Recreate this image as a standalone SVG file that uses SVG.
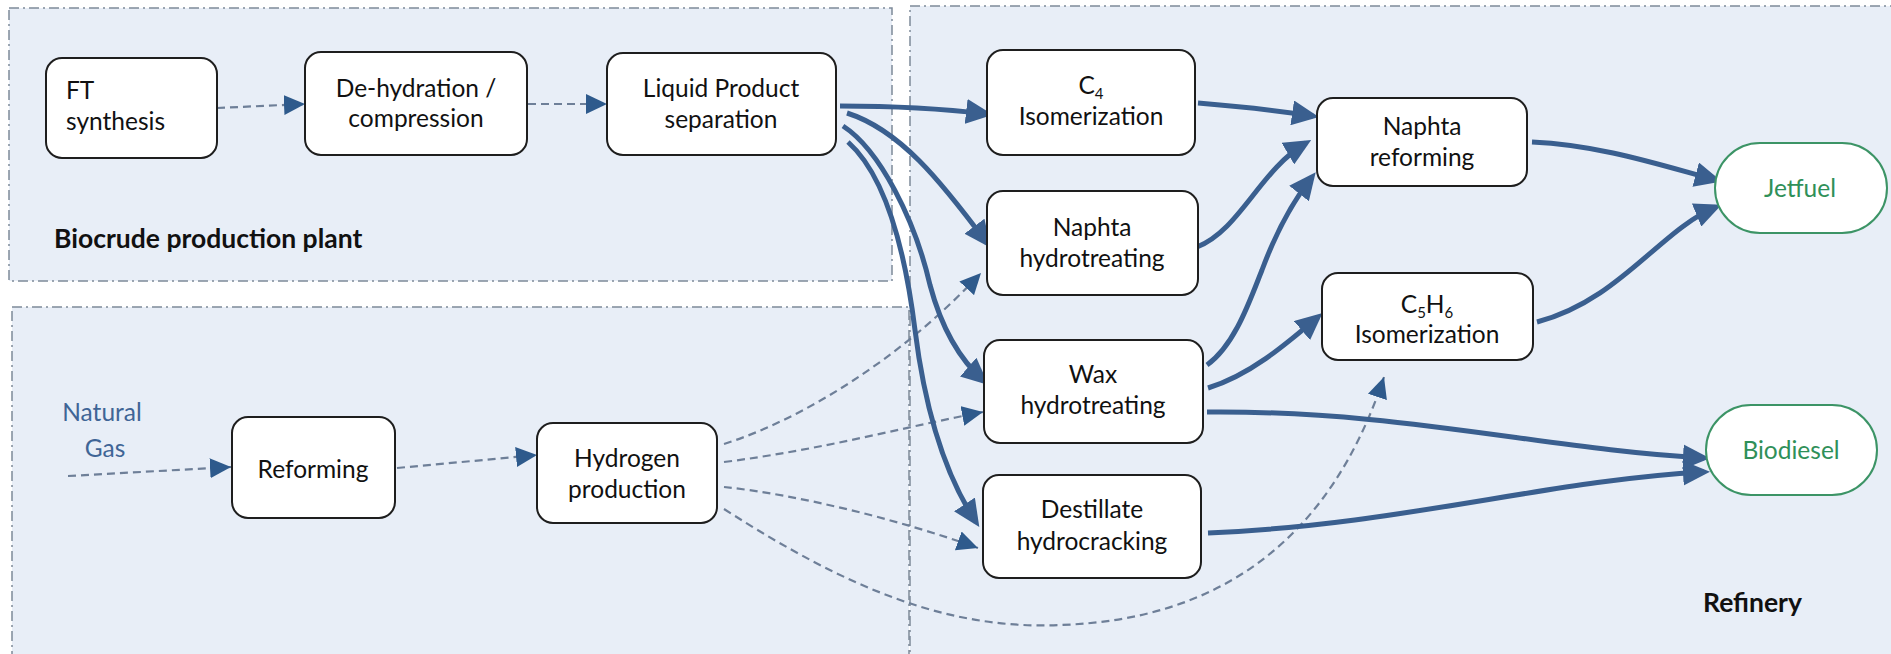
<svg xmlns="http://www.w3.org/2000/svg" width="1891" height="654" viewBox="0 0 1891 654">
  <style>
    .panel { fill: #E8EEF7; stroke: #7E8A99; stroke-width: 1.5; stroke-dasharray: 10 4 2 4; }
    .box { fill: #FFFFFF; stroke: #1E1E1E; stroke-width: 2; }
    .product { fill: #FFFFFF; stroke: #3C9466; stroke-width: 2; }
    .lbl { font-family: Lato, "Liberation Sans", sans-serif; font-size: 24.5px; fill: #111111; text-anchor: middle; }
    .left { text-anchor: start; }
    .green { fill: #2F9059; }
    .feed { fill: #3F6596; }
    .title { font-family: Lato, "Liberation Sans", sans-serif; font-size: 26.5px; font-weight: bold; fill: #111111; }
    .sub { font-size: 15px; }
    .solid { fill: none; stroke: #3A5F8F; stroke-width: 5; }
    .dash { fill: none; stroke: #6E7F98; stroke-width: 2.2; stroke-dasharray: 8 5; }
  </style>
  <defs>
    <marker id="headSolid" markerUnits="userSpaceOnUse" markerWidth="27" markerHeight="25" refX="21" refY="12.5" orient="auto">
      <path d="M0,0 L27,12.5 L0,25 z" fill="#3A5F8F"/>
    </marker>
    <marker id="headDash" markerUnits="userSpaceOnUse" markerWidth="21" markerHeight="20" refX="21" refY="10" orient="auto">
      <path d="M0,0 L21,10 L0,20 z" fill="#2E5A8C"/>
    </marker>
  </defs>

  <rect width="1891" height="654" fill="#FFFFFF"/>

  <!-- areas -->
  <g id="areas">
    <rect class="panel" x="9" y="8" width="883" height="273"/>
    <rect class="panel" x="12" y="307" width="897" height="360"/>
    <rect class="panel" x="910" y="6" width="990" height="660"/>
    <text class="title" x="54" y="248">Biocrude production plant</text>
    <text class="title" x="1703" y="612">Refinery</text>
  </g>

  <!-- connectors -->
  <g id="connectors">
    <!-- gas / hydrogen lines -->
    <path class="dash" d="M217,108 L305,104" marker-end="url(#headDash)"/>
    <path class="dash" d="M528,104 L607,104" marker-end="url(#headDash)"/>
    <path class="dash" d="M68,476 L231,467" marker-end="url(#headDash)"/>
    <path class="dash" d="M397,468 L537,455" marker-end="url(#headDash)"/>
    <path class="dash" d="M724,444 C800,420 900,360 981,273" marker-end="url(#headDash)"/>
    <path class="dash" d="M724,462 C820,450 900,428 983,412" marker-end="url(#headDash)"/>
    <path class="dash" d="M724,487 C800,495 900,520 978,548" marker-end="url(#headDash)"/>
    <path class="dash" d="M724,509 C850,590 950,630 1060,625 C1220,620 1330,540 1384,377" marker-end="url(#headDash)"/>

    <!-- product streams -->
    <path class="solid" d="M840,106 Q920,106 987,114" marker-end="url(#headSolid)"/>
    <path class="solid" d="M847,113 C900,130 940,180 987,243" marker-end="url(#headSolid)"/>
    <path class="solid" d="M843,126 C880,150 915,220 930,285 C942,330 960,360 984,381" marker-end="url(#headSolid)"/>
    <path class="solid" d="M848,142 C885,175 905,250 915,330 C925,410 945,475 976,522" marker-end="url(#headSolid)"/>
    <path class="solid" d="M1198,103 Q1260,108 1313,116" marker-end="url(#headSolid)"/>
    <path class="solid" d="M1197,247 C1240,230 1260,170 1306,143" marker-end="url(#headSolid)"/>
    <path class="solid" d="M1207,365 C1235,345 1250,300 1262,270 C1275,235 1290,205 1312,177" marker-end="url(#headSolid)"/>
    <path class="solid" d="M1208,388 C1250,375 1285,345 1318,317" marker-end="url(#headSolid)"/>
    <path class="solid" d="M1207,412 C1400,410 1550,450 1704,458" marker-end="url(#headSolid)"/>
    <path class="solid" d="M1208,533 C1400,525 1550,480 1704,472" marker-end="url(#headSolid)"/>
    <path class="solid" d="M1532,142 C1600,145 1660,165 1716,180" marker-end="url(#headSolid)"/>
    <path class="solid" d="M1537,322 C1620,300 1660,230 1716,207" marker-end="url(#headSolid)"/>
  </g>

  <!-- biocrude plant -->
  <g id="ft-synthesis">
    <rect class="box" x="46" y="58" width="171" height="100" rx="16"/>
    <text class="lbl left" x="66" y="99">FT</text>
    <text class="lbl left" x="66" y="130">synthesis</text>
  </g>
  <g id="dehydration">
    <rect class="box" x="305" y="52" width="222" height="103" rx="16"/>
    <text class="lbl" x="416" y="97">De-hydration /</text>
    <text class="lbl" x="416" y="127">compression</text>
  </g>
  <g id="liquid-separation">
    <rect class="box" x="607" y="53" width="229" height="102" rx="16"/>
    <text class="lbl" x="721" y="97">Liquid Product</text>
    <text class="lbl" x="721" y="128">separation</text>
  </g>

  <!-- hydrogen supply -->
  <g id="natural-gas">
    <text class="lbl feed" x="102" y="421">Natural</text>
    <text class="lbl feed" x="105" y="457">Gas</text>
  </g>
  <g id="reforming">
    <rect class="box" x="232" y="417" width="163" height="101" rx="16"/>
    <text class="lbl" x="313" y="478">Reforming</text>
  </g>
  <g id="hydrogen-production">
    <rect class="box" x="537" y="423" width="180" height="100" rx="16"/>
    <text class="lbl" x="627" y="467">Hydrogen</text>
    <text class="lbl" x="627" y="498">production</text>
  </g>

  <!-- refinery -->
  <g id="c4-isomerization">
    <rect class="box" x="987" y="50" width="208" height="105" rx="16"/>
    <text class="lbl" x="1091" y="94">C<tspan class="sub" dy="5">4</tspan></text>
    <text class="lbl" x="1091" y="125">Isomerization</text>
  </g>
  <g id="naphta-hydrotreating">
    <rect class="box" x="987" y="191" width="211" height="104" rx="16"/>
    <text class="lbl" x="1092" y="236">Naphta</text>
    <text class="lbl" x="1092" y="267">hydrotreating</text>
  </g>
  <g id="wax-hydrotreating">
    <rect class="box" x="984" y="340" width="219" height="103" rx="16"/>
    <text class="lbl" x="1093" y="383">Wax</text>
    <text class="lbl" x="1093" y="414">hydrotreating</text>
  </g>
  <g id="destillate-hydrocracking">
    <rect class="box" x="983" y="475" width="218" height="103" rx="16"/>
    <text class="lbl" x="1092" y="518">Destillate</text>
    <text class="lbl" x="1092" y="550">hydrocracking</text>
  </g>
  <g id="naphta-reforming">
    <rect class="box" x="1317" y="98" width="210" height="88" rx="16"/>
    <text class="lbl" x="1422" y="135">Naphta</text>
    <text class="lbl" x="1422" y="166">reforming</text>
  </g>
  <g id="c5h6-isomerization">
    <rect class="box" x="1322" y="273" width="211" height="87" rx="16"/>
    <text class="lbl" x="1427" y="313">C<tspan class="sub" dy="5">5</tspan><tspan dy="-5">H</tspan><tspan class="sub" dy="5">6</tspan></text>
    <text class="lbl" x="1427" y="343">Isomerization</text>
  </g>
  <g id="jetfuel">
    <rect class="product" x="1715" y="143" width="172" height="90" rx="45"/>
    <text class="lbl green" x="1800" y="197">Jetfuel</text>
  </g>
  <g id="biodiesel">
    <rect class="product" x="1706" y="405" width="171" height="90" rx="45"/>
    <text class="lbl green" x="1791" y="459">Biodiesel</text>
  </g>
</svg>
